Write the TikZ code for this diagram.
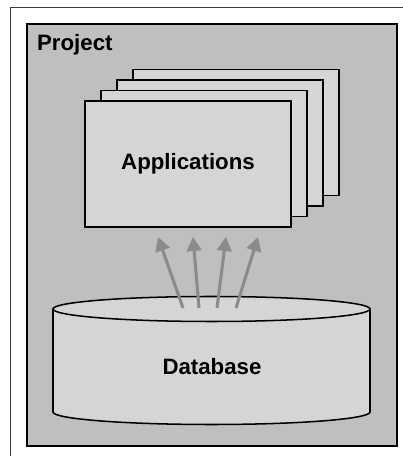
\documentclass[tikz,border=0pt]{standalone}
\usepackage{xcolor}
\usepackage{fontspec}
\setmainfont{Liberation Sans}
\usetikzlibrary{arrows.meta}
\definecolor{PJFrame}{HTML}{3A3A3A}
\definecolor{PJGray}{HTML}{BEBFC1}
\definecolor{PJCard}{HTML}{D4D5D7}
\definecolor{PJArrow}{HTML}{8A8B8D}
\tikzset{
  card/.style={draw=black,fill=PJCard,line width=1.3pt,minimum width=6.18cm,minimum height=3.78cm,inner sep=0pt},
  bigtext/.style={font=\fontsize{19}{22}\selectfont\bfseries},
  feed/.style={draw=PJArrow,line width=2.6pt,-{Triangle[length=0.42cm,width=0.44cm]}}
}

\begin{document}
\begin{tikzpicture}[x=0.03cm,y=0.03cm]
\path[use as bounding box] (0,0) rectangle (403,456);
\fill[white] (0,0) rectangle (403,456);
\draw[PJFrame,line width=.8pt] (10,0) -- (10,449) -- (403,449);
\draw[black,fill=PJGray,line width=1pt] (27,10) rectangle (397,432);
\node[bigtext,anchor=west] (project) at (33,411) {Project};
% stacked application cards
\foreach \i in {3,2,1}
  \node[card] (card\i) at (188+16*\i,292+10.5*\i) {};
\node[card,bigtext] (apps) at (188,292) {Applications};
% database cylinder
\filldraw[fill=PJCard,line width=1.3pt] (53,147) -- (53,44)
  arc[start angle=180,end angle=360,x radius=158.5,y radius=12.5] -- (370,147);
\filldraw[fill=PJCard,line width=1.3pt] (211.5,147) ellipse[x radius=158.5,y radius=12.5];
\node[bigtext] (db) at (212,89) {Database};
\foreach \i/\a/\b in {1/183/158,2/199/193,3/217/226,4/236/258} {
  \coordinate (s\i) at (\a,148);
  \coordinate (t\i) at (\b,219);
  \draw[feed] (s\i) -- (t\i);
}
\end{tikzpicture}
\end{document}
